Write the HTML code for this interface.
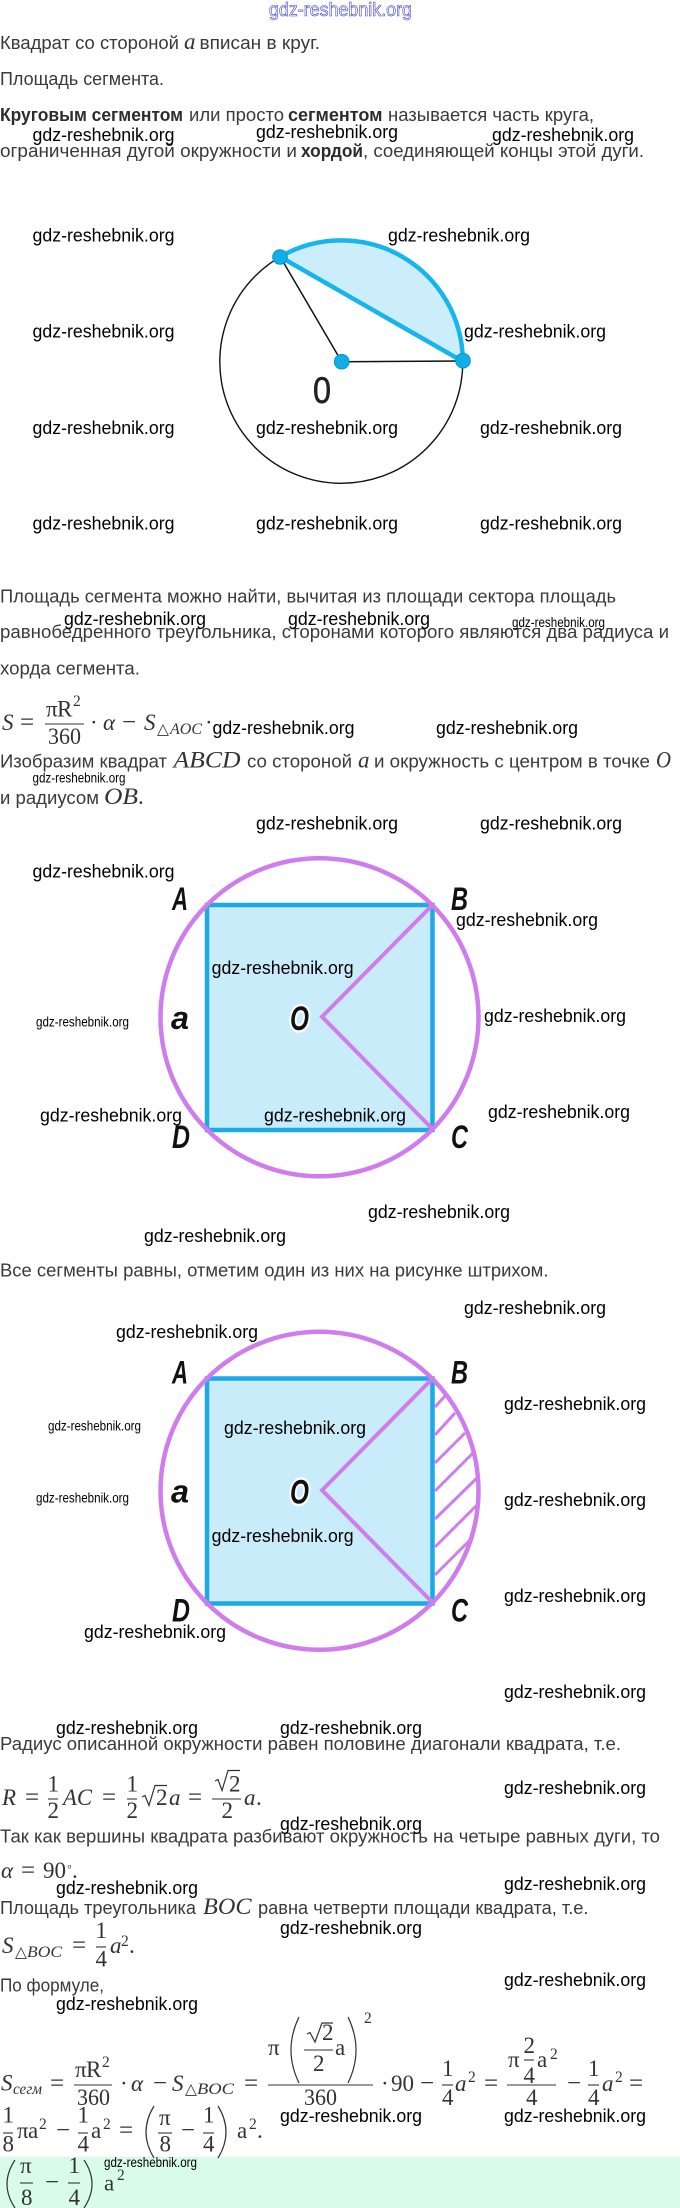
<!DOCTYPE html>
<html lang="ru">
<head>
<meta charset="utf-8">
<title>Площадь сегмента</title>
<style>
html,body{margin:0;padding:0;background:#fff;width:680px;height:2208px;overflow:hidden}
svg{display:block}
.t{font-family:"Liberation Sans",sans-serif;font-size:18px;fill:#3a3a3a}
.b{font-weight:bold;fill:#2c2c2c}
.w{font-family:"Liberation Sans",sans-serif;font-size:18px;fill:#000}
.ws{font-family:"Liberation Sans",sans-serif;font-size:14px;fill:#000}
.m{font-family:"Liberation Serif",serif;font-size:23px;fill:#333}
.i{font-style:italic}
.o{font-family:"Liberation Serif",serif;font-size:25px;fill:#333}
.s{font-family:"Liberation Serif",serif;font-size:15.5px;fill:#333}
.l{font-family:"Liberation Sans",sans-serif;font-size:32px;font-weight:bold;font-style:italic;fill:#111}
.d{fill:none;stroke:#333;stroke-width:1.2}
.f{stroke:#333;stroke-width:1.1}
</style>
</head>
<body>
<svg xmlns="http://www.w3.org/2000/svg" width="680" height="2208" viewBox="0 0 680 2208">
<rect x="0" y="2156.7" width="680" height="52" fill="#d9fce9"/>

<!-- header -->
<text x="269" y="16" textLength="143" lengthAdjust="spacingAndGlyphs" font-family="Liberation Sans, sans-serif" font-size="19" fill="#fff" stroke="#3a3ad0" stroke-width="0.6">gdz-reshebnik.org</text>

<!-- paragraph text -->
<text class="t" x="0" y="49" textLength="179" lengthAdjust="spacingAndGlyphs">Квадрат со стороной</text>
<text class="m i" x="184" y="49">a</text>
<text class="t" x="199.5" y="49" textLength="120.5" lengthAdjust="spacingAndGlyphs">вписан в круг.</text>
<text class="t" x="0" y="85" textLength="164" lengthAdjust="spacingAndGlyphs">Площадь сегмента.</text>
<text class="t b" x="0" y="121" textLength="183" lengthAdjust="spacingAndGlyphs">Круговым сегментом</text>
<text class="t" x="189" y="121" textLength="95" lengthAdjust="spacingAndGlyphs">или просто</text>
<text class="t b" x="288" y="121" textLength="94.5" lengthAdjust="spacingAndGlyphs">сегментом</text>
<text class="t" x="388" y="121" textLength="206" lengthAdjust="spacingAndGlyphs">называется часть круга,</text>
<text class="t" x="0" y="157" textLength="297" lengthAdjust="spacingAndGlyphs">ограниченная дугой окружности и</text>
<text class="t b" x="301" y="157" textLength="62" lengthAdjust="spacingAndGlyphs">хордой</text>
<text class="t" x="363" y="157" textLength="281" lengthAdjust="spacingAndGlyphs">, соединяющей концы этой дуги.</text>

<!-- diagram 1 -->
<circle cx="341.3" cy="361.8" r="121.5" fill="none" stroke="#111" stroke-width="1.4"/>
<path d="M280.2,256.8 A121.5,121.5 0 0 1 462.8,361.5 Z" fill="#cceefa"/>
<path d="M280.2,256.8 L341.7,361.7 L462.8,361" fill="none" stroke="#111" stroke-width="1.5"/>
<path d="M280.2,256.8 A121.5,121.5 0 0 1 462.8,361.5 Z" fill="none" stroke="#17b5ec" stroke-width="4.5"/>
<circle cx="280" cy="257" r="7.3" fill="#10aee8" stroke="#0c93c8" stroke-width="1"/>
<circle cx="341.7" cy="361.7" r="7.3" fill="#10aee8" stroke="#0c93c8" stroke-width="1"/>
<circle cx="463" cy="360.7" r="7.3" fill="#10aee8" stroke="#0c93c8" stroke-width="1"/>
<text x="313" y="403" textLength="18" lengthAdjust="spacingAndGlyphs" font-family="Liberation Sans, sans-serif" font-size="37" fill="#222" stroke="#222" stroke-width="0.6">0</text>

<text class="t" x="0" y="602.7" textLength="616" lengthAdjust="spacingAndGlyphs">Площадь сегмента можно найти, вычитая из площади сектора площадь</text>
<text class="t" x="0" y="638" textLength="669" lengthAdjust="spacingAndGlyphs">равнобедренного треугольника, сторонами которого являются два радиуса и</text>
<text class="t" x="0" y="674.7" textLength="140" lengthAdjust="spacingAndGlyphs">хорда сегмента.</text>

<!-- formula 1 -->
<text class="m i" x="2" y="730">S</text>
<text class="o" x="20" y="730">=</text>
<text class="m" x="46" y="716.7">π</text><text class="m" x="57" y="716.7">R</text><text class="s" x="73" y="706">2</text>
<line class="f" x1="45" y1="724" x2="84" y2="724"/>
<text class="m" x="48" y="744" textLength="33" lengthAdjust="spacingAndGlyphs">360</text>
<text class="m" x="90" y="730">·</text>
<text class="m i" x="103" y="730">α</text>
<text class="o" x="122" y="730">−</text>
<text class="m i" x="144" y="730">S</text>
<text class="s" x="157" y="734">△</text>
<text class="s i" x="170" y="734" textLength="32" lengthAdjust="spacingAndGlyphs">AOC</text>
<text class="m" x="205" y="730">·</text>

<text class="t" x="0" y="767.7" textLength="167" lengthAdjust="spacingAndGlyphs">Изобразим квадрат</text>
<text class="m i" x="173.5" y="767.7" textLength="67" lengthAdjust="spacingAndGlyphs">ABCD</text>
<text class="t" x="247" y="767.7" textLength="105" lengthAdjust="spacingAndGlyphs">со стороной</text>
<text class="m i" x="358" y="767.7">a</text>
<text class="t" x="374" y="767.7" textLength="276" lengthAdjust="spacingAndGlyphs">и окружность с центром в точке</text>
<text class="m i" x="656" y="767.7" textLength="15" lengthAdjust="spacingAndGlyphs">O</text>
<text class="t" x="0" y="804" textLength="99" lengthAdjust="spacingAndGlyphs">и радиусом</text>
<text class="m i" x="104" y="804" textLength="34" lengthAdjust="spacingAndGlyphs">OB</text>
<text class="m" x="138" y="804">.</text>

<!-- diagram 2 -->
<g>
<rect x="207" y="905" width="225.5" height="225" fill="#c9ecfb" stroke="#1ba9e8" stroke-width="4.5"/>
<circle cx="319.5" cy="1017.3" r="159" fill="none" stroke="#cf7ded" stroke-width="4.5"/>
<path d="M431.5,906 L322,1016.7 L431.5,1128" fill="none" stroke="#cf7ded" stroke-width="4"/>
<text class="l" x="172" y="910" textLength="16" lengthAdjust="spacingAndGlyphs">A</text>
<text class="l" x="451" y="910" textLength="17" lengthAdjust="spacingAndGlyphs">B</text>
<text class="l" x="451" y="1148" textLength="17" lengthAdjust="spacingAndGlyphs">C</text>
<text class="l" x="172" y="1148" textLength="18" lengthAdjust="spacingAndGlyphs">D</text>
<text class="l" x="171" y="1029" textLength="18" lengthAdjust="spacingAndGlyphs">a</text>
<text class="l" x="290" y="1030" textLength="19" lengthAdjust="spacingAndGlyphs" stroke="#fff" stroke-width="5" paint-order="stroke" style="font-size:34px">O</text>
</g>

<text class="t" x="0" y="1276.7" textLength="548.5" lengthAdjust="spacingAndGlyphs">Все сегменты равны, отметим один из них на рисунке штрихом.</text>

<!-- diagram 3 -->
<g transform="translate(0,473.5)">
<rect x="207" y="905" width="225.5" height="225" fill="#c9ecfb" stroke="#1ba9e8" stroke-width="4.5"/>
<circle cx="319.5" cy="1017.3" r="159" fill="none" stroke="#cf7ded" stroke-width="4.5"/>
<path d="M431.5,906 L322,1016.7 L431.5,1128" fill="none" stroke="#cf7ded" stroke-width="4"/>
<text class="l" x="172" y="910" textLength="16" lengthAdjust="spacingAndGlyphs">A</text>
<text class="l" x="451" y="910" textLength="17" lengthAdjust="spacingAndGlyphs">B</text>
<text class="l" x="451" y="1148" textLength="17" lengthAdjust="spacingAndGlyphs">C</text>
<text class="l" x="172" y="1148" textLength="18" lengthAdjust="spacingAndGlyphs">D</text>
<text class="l" x="171" y="1029" textLength="18" lengthAdjust="spacingAndGlyphs">a</text>
<text class="l" x="290" y="1030" textLength="19" lengthAdjust="spacingAndGlyphs" stroke="#fff" stroke-width="5" paint-order="stroke" style="font-size:34px">O</text>
</g>
<g stroke="#cf7ded" stroke-width="3" fill="none">
<line x1="435" y1="1407" x2="445" y2="1396"/>
<line x1="435" y1="1435" x2="455" y2="1413"/>
<line x1="435" y1="1463" x2="465" y2="1433"/>
<line x1="435" y1="1491" x2="473" y2="1453"/>
<line x1="435" y1="1519" x2="477" y2="1478"/>
<line x1="435" y1="1547" x2="477" y2="1505"/>
<line x1="435" y1="1575" x2="470" y2="1540"/>
</g>

<text class="t" x="0" y="1750" textLength="621" lengthAdjust="spacingAndGlyphs">Радиус описанной окружности равен половине диагонали квадрата, т.е.</text>

<!-- R formula -->
<text class="m i" x="2" y="1805">R</text>
<text class="o" x="25" y="1805">=</text>
<text class="m" x="47.5" y="1791.7">1</text><line class="f" x1="48" y1="1799" x2="58" y2="1799"/><text class="m" x="47.5" y="1818">2</text>
<text class="m i" x="63" y="1805" textLength="29" lengthAdjust="spacingAndGlyphs">AC</text>
<text class="o" x="102" y="1805">=</text>
<text class="m" x="126.5" y="1791.7">1</text><line class="f" x1="127" y1="1799" x2="137" y2="1799"/><text class="m" x="126.5" y="1818">2</text>
<path class="d" d="M142,1797 l3,-1.5 l4,10 l6,-20 h12"/>
<text class="m" x="156" y="1805">2</text>
<text class="m i" x="169" y="1805">a</text>
<text class="o" x="188" y="1805">=</text>
<path class="d" d="M215,1781 l3,-1.5 l4,11 l6,-20 h12"/>
<text class="m" x="229" y="1791.7">2</text>
<line class="f" x1="212" y1="1799" x2="241" y2="1799"/>
<text class="m" x="221.5" y="1818">2</text>
<text class="m i" x="244" y="1805">a</text><text class="m" x="256" y="1805">.</text>

<text class="t" x="0" y="1842.7" textLength="660" lengthAdjust="spacingAndGlyphs">Так как вершины квадрата разбивают окружность на четыре равных дуги, то</text>

<text class="m i" x="1" y="1878">α</text>
<text class="o" x="21" y="1878">=</text>
<text class="m" x="43" y="1878">90</text>
<text class="s" x="66" y="1870" style="font-size:11px">∘</text>
<text class="m" x="72" y="1878">.</text>

<text class="t" x="0" y="1914" textLength="196" lengthAdjust="spacingAndGlyphs">Площадь треугольника</text>
<text class="m i" x="203" y="1914" textLength="48.5" lengthAdjust="spacingAndGlyphs">BOC</text>
<text class="t" x="258" y="1914" textLength="330.5" lengthAdjust="spacingAndGlyphs">равна четверти площади квадрата, т.е.</text>

<!-- S BOC -->
<text class="m i" x="2" y="1953">S</text>
<text class="s" x="15" y="1957">△</text>
<text class="s i" x="27" y="1957" textLength="35" lengthAdjust="spacingAndGlyphs">BOC</text>
<text class="o" x="72" y="1953">=</text>
<text class="m" x="95.5" y="1938">1</text><line class="f" x1="96" y1="1947" x2="106" y2="1947"/><text class="m" x="95.5" y="1966.7">4</text>
<text class="m i" x="110" y="1953">a</text><text class="s" x="121" y="1946">2</text><text class="m" x="129" y="1953">.</text>

<text class="t" x="0" y="1991.7" textLength="104" lengthAdjust="spacingAndGlyphs">По формуле,</text>

<!-- big formula -->
<text class="m i" x="1" y="2090.7">S</text>
<text class="s i" x="13" y="2094" textLength="29" lengthAdjust="spacingAndGlyphs">сегм</text>
<text class="o" x="50" y="2091">=</text>
<text class="m" x="75" y="2077">π</text><text class="m" x="86" y="2077">R</text><text class="s" x="102" y="2067">2</text>
<line class="f" x1="74" y1="2085" x2="112" y2="2085"/>
<text class="m" x="77" y="2105" textLength="33" lengthAdjust="spacingAndGlyphs">360</text>
<text class="m" x="120" y="2091">·</text>
<text class="m i" x="131" y="2091">α</text>
<text class="o" x="153" y="2091">−</text>
<text class="m i" x="172" y="2091">S</text>
<text class="s" x="185" y="2094">△</text>
<text class="s i" x="197" y="2094" textLength="37" lengthAdjust="spacingAndGlyphs">BOC</text>
<text class="o" x="244" y="2091">=</text>
<line class="f" x1="268" y1="2085" x2="373" y2="2085"/>
<text class="m" x="268" y="2055">π</text>
<path class="d" d="M299,2017 Q283,2050 299,2083"/>
<path class="d" d="M307,2034 l3,-1.5 l5,9.5 l7,-19 h11"/>
<text class="m" x="322" y="2040">2</text>
<line class="f" x1="304" y1="2050" x2="333" y2="2050"/>
<text class="m" x="313" y="2071">2</text>
<text class="m" x="335" y="2055">a</text>
<path class="d" d="M348,2017 Q364,2050 348,2083"/>
<text class="s" x="364" y="2023">2</text>
<text class="m" x="304" y="2105" textLength="33" lengthAdjust="spacingAndGlyphs">360</text>
<text class="m" x="381" y="2091">·</text>
<text class="m" x="391" y="2091">90</text>
<text class="o" x="420" y="2091">−</text>
<text class="m" x="442" y="2076">1</text><line class="f" x1="442" y1="2085" x2="453" y2="2085"/><text class="m" x="442" y="2105">4</text>
<text class="m i" x="455" y="2091">a</text><text class="s" x="468" y="2082">2</text>
<text class="o" x="484" y="2091">=</text>
<text class="m" x="508" y="2067">π</text>
<text class="m" x="523.5" y="2053">2</text><line class="f" x1="524" y1="2060" x2="534" y2="2060"/><text class="m" x="523.5" y="2083">4</text>
<text class="m" x="537" y="2067">a</text><text class="s" x="550" y="2059">2</text>
<line class="f" x1="507" y1="2085" x2="556" y2="2085"/>
<text class="m" x="526" y="2105">4</text>
<text class="o" x="567" y="2091">−</text>
<text class="m" x="588" y="2076">1</text><line class="f" x1="588" y1="2085" x2="599" y2="2085"/><text class="m" x="588" y="2105">4</text>
<text class="m i" x="602" y="2091">a</text><text class="s" x="615" y="2082">2</text>
<text class="o" x="629" y="2091">=</text>

<!-- line 2 -->
<text class="m" x="2.5" y="2122.7">1</text><line class="f" x1="3" y1="2133" x2="13" y2="2133"/><text class="m" x="2.5" y="2151.7">8</text>
<text class="m" x="17" y="2138">π</text><text class="m" x="28" y="2138">a</text><text class="s" x="39" y="2129">2</text>
<text class="o" x="56" y="2138">−</text>
<text class="m" x="77.5" y="2122.7">1</text><line class="f" x1="78" y1="2133" x2="88" y2="2133"/><text class="m" x="77.5" y="2151.7">4</text>
<text class="m" x="91" y="2138">a</text><text class="s" x="103" y="2129">2</text>
<text class="o" x="119" y="2138">=</text>
<path class="d" d="M154,2106 Q138,2132 154,2158"/>
<text class="m" x="159" y="2125">π</text><line class="f" x1="158" y1="2133" x2="172" y2="2133"/><text class="m" x="159.5" y="2151.7">8</text>
<text class="o" x="181" y="2138">−</text>
<text class="m" x="203" y="2122.7">1</text><line class="f" x1="203" y1="2133" x2="214" y2="2133"/><text class="m" x="203" y="2151.7">4</text>
<path class="d" d="M218,2106 Q234,2132 218,2158"/>
<text class="m" x="237" y="2138">a</text><text class="s" x="249" y="2129">2</text><text class="m" x="257" y="2138">.</text>

<!-- answer -->
<path class="d" d="M15,2160 Q-1,2184 15,2208"/>
<text class="m" x="20" y="2173">π</text><line class="f" x1="20" y1="2183" x2="33" y2="2183"/><text class="m" x="21" y="2205">8</text>
<text class="o" x="45" y="2190">−</text>
<text class="m" x="68.5" y="2173">1</text><line class="f" x1="68" y1="2183" x2="80" y2="2183"/><text class="m" x="68.5" y="2205">4</text>
<path class="d" d="M84,2160 Q100,2184 84,2208"/>
<text class="m" x="104" y="2190.7">a</text><text class="s" x="117" y="2180">2</text>

<!-- watermarks -->
<g>
<text class="w" x="32.5" y="141" textLength="142" lengthAdjust="spacingAndGlyphs">gdz-reshebnik.org</text>
<text class="w" x="256" y="138" textLength="142" lengthAdjust="spacingAndGlyphs">gdz-reshebnik.org</text>
<text class="w" x="492" y="141" textLength="142" lengthAdjust="spacingAndGlyphs">gdz-reshebnik.org</text>
<text class="w" x="32.5" y="241.7" textLength="142" lengthAdjust="spacingAndGlyphs">gdz-reshebnik.org</text>
<text class="w" x="388" y="241.7" textLength="142" lengthAdjust="spacingAndGlyphs">gdz-reshebnik.org</text>
<text class="w" x="32.5" y="337.7" textLength="142" lengthAdjust="spacingAndGlyphs">gdz-reshebnik.org</text>
<text class="w" x="464" y="337.7" textLength="142" lengthAdjust="spacingAndGlyphs">gdz-reshebnik.org</text>
<text class="w" x="32.5" y="434" textLength="142" lengthAdjust="spacingAndGlyphs">gdz-reshebnik.org</text>
<text class="w" x="256" y="434" textLength="142" lengthAdjust="spacingAndGlyphs">gdz-reshebnik.org</text>
<text class="w" x="480" y="434" textLength="142" lengthAdjust="spacingAndGlyphs">gdz-reshebnik.org</text>
<text class="w" x="32.5" y="529.7" textLength="142" lengthAdjust="spacingAndGlyphs">gdz-reshebnik.org</text>
<text class="w" x="256" y="529.7" textLength="142" lengthAdjust="spacingAndGlyphs">gdz-reshebnik.org</text>
<text class="w" x="480" y="529.7" textLength="142" lengthAdjust="spacingAndGlyphs">gdz-reshebnik.org</text>
<text class="w" x="64" y="625" textLength="142" lengthAdjust="spacingAndGlyphs">gdz-reshebnik.org</text>
<text class="w" x="288" y="625" textLength="142" lengthAdjust="spacingAndGlyphs">gdz-reshebnik.org</text>
<text class="ws" x="512" y="627" textLength="93" lengthAdjust="spacingAndGlyphs">gdz-reshebnik.org</text>
<text class="w" x="212.5" y="734" textLength="142" lengthAdjust="spacingAndGlyphs">gdz-reshebnik.org</text>
<text class="w" x="436" y="734" textLength="142" lengthAdjust="spacingAndGlyphs">gdz-reshebnik.org</text>
<text class="ws" x="32.5" y="782.7" textLength="93" lengthAdjust="spacingAndGlyphs">gdz-reshebnik.org</text>
<text class="w" x="256" y="829.7" textLength="142" lengthAdjust="spacingAndGlyphs">gdz-reshebnik.org</text>
<text class="w" x="480" y="829.7" textLength="142" lengthAdjust="spacingAndGlyphs">gdz-reshebnik.org</text>
<text class="w" x="32.5" y="877.7" textLength="142" lengthAdjust="spacingAndGlyphs">gdz-reshebnik.org</text>
<text class="w" x="456" y="926" textLength="142" lengthAdjust="spacingAndGlyphs">gdz-reshebnik.org</text>
<text class="w" x="211.6" y="974" textLength="142" lengthAdjust="spacingAndGlyphs">gdz-reshebnik.org</text>
<text class="w" x="484" y="1022" textLength="142" lengthAdjust="spacingAndGlyphs">gdz-reshebnik.org</text>
<text class="ws" x="36" y="1026.7" textLength="93" lengthAdjust="spacingAndGlyphs">gdz-reshebnik.org</text>
<text class="w" x="40" y="1121.7" textLength="142" lengthAdjust="spacingAndGlyphs">gdz-reshebnik.org</text>
<text class="w" x="264" y="1121.7" textLength="142" lengthAdjust="spacingAndGlyphs">gdz-reshebnik.org</text>
<text class="w" x="488" y="1118" textLength="142" lengthAdjust="spacingAndGlyphs">gdz-reshebnik.org</text>
<text class="w" x="368" y="1218" textLength="142" lengthAdjust="spacingAndGlyphs">gdz-reshebnik.org</text>
<text class="w" x="144" y="1242" textLength="142" lengthAdjust="spacingAndGlyphs">gdz-reshebnik.org</text>
<text class="w" x="464" y="1314" textLength="142" lengthAdjust="spacingAndGlyphs">gdz-reshebnik.org</text>
<text class="w" x="116" y="1338" textLength="142" lengthAdjust="spacingAndGlyphs">gdz-reshebnik.org</text>
<text class="w" x="504" y="1410" textLength="142" lengthAdjust="spacingAndGlyphs">gdz-reshebnik.org</text>
<text class="ws" x="48" y="1430.7" textLength="93" lengthAdjust="spacingAndGlyphs">gdz-reshebnik.org</text>
<text class="w" x="224" y="1434" textLength="142" lengthAdjust="spacingAndGlyphs">gdz-reshebnik.org</text>
<text class="ws" x="36" y="1502.7" textLength="93" lengthAdjust="spacingAndGlyphs">gdz-reshebnik.org</text>
<text class="w" x="504" y="1506" textLength="142" lengthAdjust="spacingAndGlyphs">gdz-reshebnik.org</text>
<text class="w" x="211.6" y="1542" textLength="142" lengthAdjust="spacingAndGlyphs">gdz-reshebnik.org</text>
<text class="w" x="504" y="1602" textLength="142" lengthAdjust="spacingAndGlyphs">gdz-reshebnik.org</text>
<text class="w" x="84" y="1638" textLength="142" lengthAdjust="spacingAndGlyphs">gdz-reshebnik.org</text>
<text class="w" x="504" y="1698" textLength="142" lengthAdjust="spacingAndGlyphs">gdz-reshebnik.org</text>
<text class="w" x="56" y="1734" textLength="142" lengthAdjust="spacingAndGlyphs">gdz-reshebnik.org</text>
<text class="w" x="280" y="1734" textLength="142" lengthAdjust="spacingAndGlyphs">gdz-reshebnik.org</text>
<text class="w" x="504" y="1794" textLength="142" lengthAdjust="spacingAndGlyphs">gdz-reshebnik.org</text>
<text class="w" x="280" y="1830" textLength="142" lengthAdjust="spacingAndGlyphs">gdz-reshebnik.org</text>
<text class="w" x="504" y="1890" textLength="142" lengthAdjust="spacingAndGlyphs">gdz-reshebnik.org</text>
<text class="w" x="56" y="1894" textLength="142" lengthAdjust="spacingAndGlyphs">gdz-reshebnik.org</text>
<text class="w" x="280" y="1934" textLength="142" lengthAdjust="spacingAndGlyphs">gdz-reshebnik.org</text>
<text class="w" x="504" y="1986" textLength="142" lengthAdjust="spacingAndGlyphs">gdz-reshebnik.org</text>
<text class="w" x="56" y="2010" textLength="142" lengthAdjust="spacingAndGlyphs">gdz-reshebnik.org</text>
<text class="w" x="280" y="2122" textLength="142" lengthAdjust="spacingAndGlyphs">gdz-reshebnik.org</text>
<text class="w" x="504" y="2122" textLength="142" lengthAdjust="spacingAndGlyphs">gdz-reshebnik.org</text>
<text class="ws" x="104" y="2167" textLength="93" lengthAdjust="spacingAndGlyphs">gdz-reshebnik.org</text>
</g>
</svg>
</body>
</html>
